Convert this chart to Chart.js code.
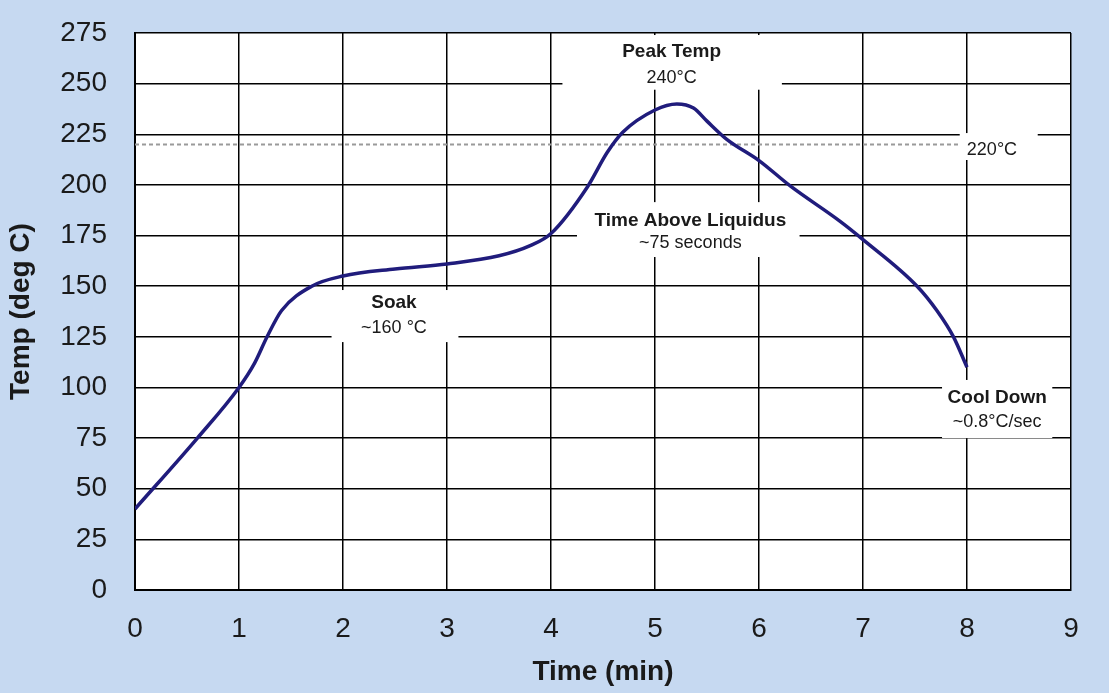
<!DOCTYPE html>
<html>
<head>
<meta charset="utf-8">
<script src="https://cdn.jsdelivr.net/npm/chart.js@4.4.1/dist/chart.umd.min.js"></script>
<style>
  html, body { margin: 0; padding: 0; background: #c6d9f1; }
  #wrap { width: 1109px; height: 693px; }
</style>
</head>
<body>
<div id="wrap"><canvas id="reflow"></canvas></div>
<script>
// reflow profile
const timeMin = [0, 0.6, 1, 1.15, 1.27, 1.41, 1.7, 2, 2.5, 3, 3.5, 3.8, 4, 4.35, 4.54, 4.69, 5, 5.21, 5.37, 5.5, 5.69, 6, 6.3, 6.78, 7, 7.52, 7.71, 7.87, 8];
const tempC   = [40, 75, 100, 112, 125, 138, 150, 155, 158.5, 161, 165, 170, 176, 199, 216, 226, 237, 240, 238, 231.5, 222.5, 212, 199.5, 182, 173, 150, 138, 125, 110];

const liquidusTime = [0, 8];
const liquidusTemp = [220, 220];

const yTicks = [0, 25, 50, 75, 100, 125, 150, 175, 200, 225, 250, 275];
const xTicks = [0, 1, 2, 3, 4, 5, 6, 7, 8, 9];

// callouts: text only, placement is in the plugin below
const calloutText = [
    ['Peak Temp', '240°C'],
    ['220°C'],
    ['Time Above Liquidus', '~75 seconds'],
    ['Soak', '~160 °C'],
    ['Cool Down', '~0.8°C/sec']
];

// box corners and text centres in data units
const calloutPlace = [
    { x1: 4.11, x2: 6.22, y1: 274, y2: 247, cx: 5.16, ys: [265.5, 253] },
    { x1: 7.93, x2: 8.68, y1: 225.6, y2: 212.3, cx: 8.24, ys: [217.2] },
    { x1: 4.25, x2: 6.39, y1: 191.5, y2: 164.4, cx: 5.34, ys: [182.4, 171.3] },
    { x1: 1.89, x2: 3.11, y1: 148.1, y2: 122.4, cx: 2.49, ys: [141.7, 129.3] },
    { x1: 7.76, x2: 8.82, y1: 103.7, y2: 75, cx: 8.29, ys: [94.8, 82.9] }
];

const plotBg = {
    id: 'plotBg',
    beforeDraw(chart) {
        const { ctx, chartArea: a } = chart;
        ctx.save();
        ctx.fillStyle = '#ffffff';
        ctx.fillRect(a.left, a.top, a.right - a.left, a.bottom - a.top);
        ctx.restore();
    }
};

// white boxes with text, drawn after the dashed line and before the curve
const callouts = {
    id: 'callouts',
    afterDatasetDraw(chart, args) {
        if (args.index !== 1) return;
        const { ctx, scales: { x, y } } = chart;
        ctx.save();
        calloutPlace.forEach((p, i) => {
            const l = x.getPixelForValue(p.x1), r = x.getPixelForValue(p.x2);
            const t = y.getPixelForValue(p.y1), b = y.getPixelForValue(p.y2);
            ctx.fillStyle = '#ffffff';
            ctx.fillRect(l, t, r - l, b - t);
            ctx.fillStyle = '#1a1a1a';
            ctx.textAlign = 'center';
            ctx.textBaseline = 'middle';
            calloutText[i].forEach((txt, j) => {
                const bold = calloutText[i].length > 1 && j === 0;
                ctx.font = (bold ? 'bold 19px' : '18px') + ' "Liberation Sans", Arial, sans-serif';
                ctx.fillText(txt, x.getPixelForValue(p.cx), y.getPixelForValue(p.ys[j]));
            });
        });
        ctx.restore();
    }
};

const tickFont = { family: '"Liberation Sans", Arial, sans-serif', size: 28 };
const titleFont = { family: '"Liberation Sans", Arial, sans-serif', size: 28, weight: 'bold' };

new Chart(document.getElementById('reflow'), {
    type: 'line',
    data: {
        datasets: [{
            label: 'Profile',
            data: timeMin.map((t, i) => ({ x: t, y: tempC[i] })),
            borderColor: '#201c7c',
            borderWidth: 3.5,
            pointRadius: 0,
            fill: false,
            cubicInterpolationMode: 'monotone',
            order: 0
        }, {
            label: 'Liquidus',
            data: liquidusTime.map((t, i) => ({ x: t, y: liquidusTemp[i] })),
            borderColor: '#9a9a9a',
            borderWidth: 2,
            borderDash: [4, 3],
            pointRadius: 0,
            fill: false,
            order: 1
        }]
    },
    options: {
        responsive: true,
        maintainAspectRatio: false,
        animation: false,
        layout: { padding: { top: 33, right: 38, left: 0, bottom: 0 } },
        plugins: {
            legend: { display: false },
            tooltip: { enabled: false }
        },
        scales: {
            x: {
                type: 'linear',
                min: 0,
                max: 9,
                afterBuildTicks: s => { s.ticks = xTicks.map(v => ({ value: v })); },
                afterFit: s => { s.height = 103; s.paddingLeft = 0; s.paddingRight = 0; },
                grid: { color: '#000000', lineWidth: 1.5, drawTicks: false },
                border: { color: '#000000', width: 2 },
                ticks: { color: '#1a1a1a', font: tickFont, padding: 22, maxRotation: 0 },
                title: { display: true, text: 'Time (min)', color: '#1a1a1a', font: titleFont, padding: { top: 0, bottom: 4 } }
            },
            y: {
                min: 0,
                max: 275,
                afterBuildTicks: s => { s.ticks = yTicks.map(v => ({ value: v })); },
                afterFit: s => { s.width = 135; s.paddingTop = 0; s.paddingBottom = 0; },
                grid: { color: '#000000', lineWidth: 1.5, drawTicks: false },
                border: { color: '#000000', width: 2 },
                ticks: { color: '#1a1a1a', font: tickFont, padding: 28 },
                title: { display: true, text: 'Temp (deg C)', color: '#1a1a1a', font: titleFont, padding: { top: 4, bottom: 0 } }
            }
        }
    },
    plugins: [plotBg, callouts]
});
</script>
</body>
</html>
